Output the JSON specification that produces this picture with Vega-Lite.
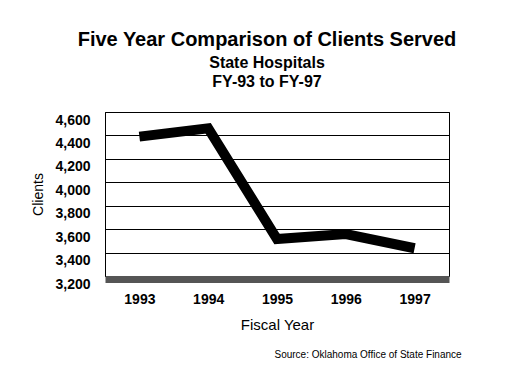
{
  "$schema": "https://vega.github.io/schema/vega-lite/v6.json",
  "autosize": {"type": "none"},
  "width": 344,
  "height": 164,
  "padding": {"left": 105, "top": 112, "right": 68, "bottom": 105},
  "background": "white",
  "config": {
    "font": "Liberation Sans",
    "view": {"stroke": "black", "strokeWidth": 1},
    "axisX": {
      "labelAngle": 0,
      "labelFontSize": 14,
      "labelFontWeight": "bold",
      "labelColor": "black",
      "labelPadding": 13,
      "ticks": false,
      "grid": false,
      "domainColor": "#555555",
      "domainWidth": 7,
      "offset": 3,
      "titleFontSize": 15,
      "titleFontWeight": "normal",
      "titleColor": "black",
      "titlePadding": 11
    },
    "axisY": {
      "tickCount": 7,
      "format": ",d",
      "labelOverlap": false,
      "labelFontSize": 14,
      "labelFontWeight": "bold",
      "labelColor": "black",
      "labelPadding": 15,
      "labelOffset": 8,
      "ticks": false,
      "domainColor": "black",
      "grid": true,
      "gridColor": "black",
      "gridOpacity": 1,
      "gridWidth": 1,
      "titleFontSize": 14,
      "titleFontWeight": "normal",
      "titleColor": "black",
      "titlePadding": 9
    }
  },
  "title": {
    "text": "Five Year Comparison of Clients Served",
    "subtitle": ["State Hospitals", "FY-93 to FY-97"],
    "anchor": "middle",
    "frame": "group",
    "dx": -10,
    "fontSize": 20,
    "fontWeight": "bold",
    "color": "black",
    "subtitleFontSize": 16,
    "subtitleFontWeight": "bold",
    "subtitleColor": "black",
    "subtitlePadding": 5,
    "subtitleLineHeight": 19,
    "offset": 18
  },
  "data": {
    "values": [
      {"year": "1993", "clients": 4390},
      {"year": "1994", "clients": 4460},
      {"year": "1995", "clients": 3515},
      {"year": "1996", "clients": 3558},
      {"year": "1997", "clients": 3437}
    ]
  },
  "layer": [
    {
      "mark": {"type": "line", "color": "black", "strokeWidth": 10, "strokeCap": "butt", "strokeJoin": "miter"},
      "encoding": {
        "x": {
          "field": "year",
          "type": "ordinal",
          "scale": {"type": "point", "padding": 0.5},
          "axis": {"title": "Fiscal Year"}
        },
        "y": {
          "field": "clients",
          "type": "quantitative",
          "scale": {"domain": [3200, 4600], "nice": false, "zero": false},
          "axis": {"title": "Clients"}
        }
      }
    },
    {
      "data": {"values": [{"source": "Source:  Oklahoma Office of State Finance"}]},
      "mark": {"type": "text", "align": "right", "baseline": "middle", "fontSize": 10, "color": "black", "dx": 47, "dy": 79},
      "encoding": {
        "x": {"datum": "1997", "type": "ordinal"},
        "y": {"datum": 3200, "type": "quantitative"},
        "text": {"field": "source"}
      }
    }
  ]
}
